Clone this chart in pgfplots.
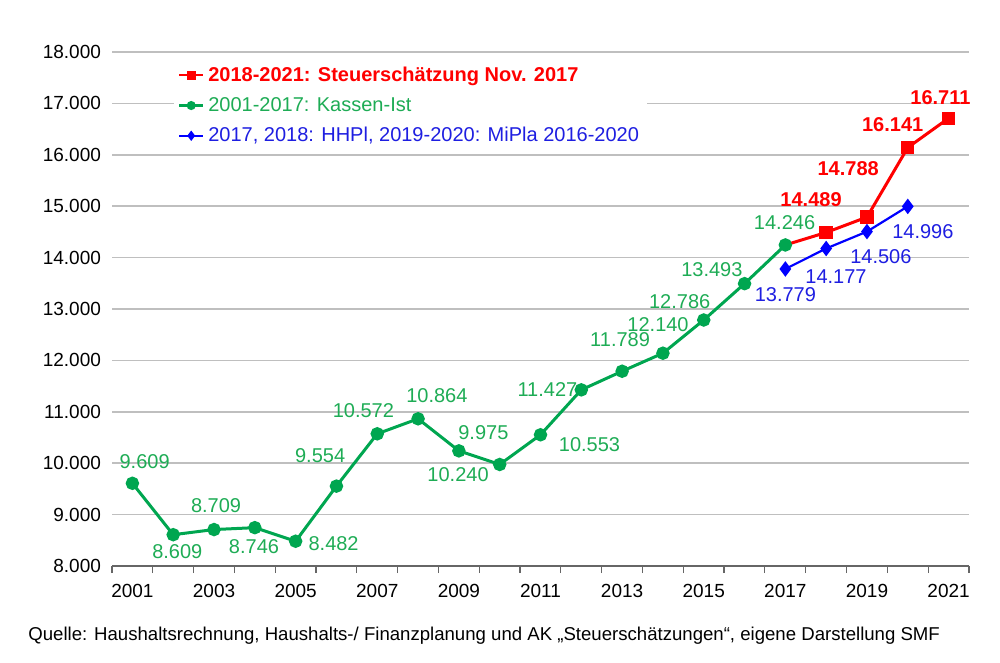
\documentclass[border=0pt]{standalone}
\usepackage{pgfplots}
\pgfplotsset{compat=1.18}
\usepackage{pgfplotstable}
\usepackage{fontspec}
\setmainfont{Liberation Sans}

\definecolor{lgreen}{RGB}{0,166,80}
\definecolor{tgreen}{RGB}{30,172,85}
\definecolor{lred}{RGB}{255,0,0}
\definecolor{lblue}{RGB}{0,0,255}
\definecolor{tblue}{RGB}{30,30,225}

\tikzset{
    lab/.style={font=\fontsize{10}{12}\selectfont},
    labb/.style={font=\fontsize{10}{12}\selectfont\bfseries},
}

% Kassen-Ist 2001-2017
\pgfplotstableread{
year val
2001 9609
2002 8609
2003 8709
2004 8746
2005 8482
2006 9554
2007 10572
2008 10864
2009 10240
2010 9975
2011 10553
2012 11427
2013 11789
2014 12140
2015 12786
2016 13493
2017 14246
}\kassen

% Steuerschaetzung Nov. 2017
\pgfplotstableread{
year val
2017 14246
2018 14489
2019 14788
2020 16141
2021 16711
}\steuer

% HHPl / MiPla
\pgfplotstableread{
year val
2017 13779
2018 14177
2019 14506
2020 14996
}\mipla

\begin{document}
\begin{tikzpicture}
\begin{axis}[
    at={(0,0)}, anchor=south west, name=ax,
    scale only axis, width=428.5pt, height=257pt,
    xmin=2000.5, xmax=2021.5,
    ymin=8000, ymax=18000,
    xtick={2001,2003,...,2021},
    minor xtick={2000.5,2001.5,...,2021.5},
    ytick={8000,9000,...,18000},
    scaled y ticks=false,
    axis x line*=bottom, axis y line*=left,
    y axis line style={draw=none},
    x axis line style={-, draw=black!60, line width=0.8pt},
    ytick style={draw=none},
    major tick length=0pt,
    minor tick length=3.5pt,
    tick align=outside,
    minor x tick style={draw=black!60, line width=0.6pt},
    ymajorgrids,
    grid style={black!25, line width=0.8pt},
    /pgf/number format/assume math mode=true,
    yticklabel style={font=\fontsize{9.5}{11}\selectfont, /pgf/number format/fixed, /pgf/number format/1000 sep={.}, xshift=-2pt},
    xticklabel style={font=\fontsize{9.5}{11}\selectfont, /pgf/number format/1000 sep={}, yshift=-5.5pt},
    clip=false,
    legend image code/.code={
        \draw[mark indices={2}, line width=1.1pt]
        plot coordinates {(0pt,0pt) (6pt,0pt) (12pt,0pt)};
    },
    legend image post style={mark size=1.7pt},
    legend style={at={(0.072,0.988)}, anchor=north west, draw=none, fill=white,
        font=\fontsize{10}{12}\selectfont, row sep=2.5pt, inner sep=2pt},
    legend cell align=left,
]
\addplot[lred, line width=1.5pt, mark=square*, mark size=2.6pt, mark indices={2,3,4,5}] table[x=year, y=val] {\steuer};
\addlegendentry{\textcolor{lred}{\bfseries 2018-2021: Steuerschätzung Nov. 2017}}
\addplot[lgreen, line width=1.5pt, mark=*, mark size=2.6pt] table[x=year, y=val] {\kassen};
\addlegendentry{\textcolor{tgreen}{2001-2017: Kassen-Ist}}
\addplot[lblue, line width=1.1pt, mark=diamond*, mark size=3pt] table[x=year, y=val] {\mipla};
\addlegendentry{\textcolor{tblue}{2017, 2018: HHPl, 2019-2020: MiPla 2016-2020}}

% data labels, green
\node[lab, tgreen] at (axis cs:2001.3,10023) {9.609};
\node[lab, tgreen] at (axis cs:2002.1,8272) {8.609};
\node[lab, tgreen] at (axis cs:2003.05,9167) {8.709};
\node[lab, tgreen] at (axis cs:2003.98,8370) {8.746};
\node[lab, tgreen] at (axis cs:2005.93,8428) {8.482};
\node[lab, tgreen] at (axis cs:2005.6,10140) {9.554};
\node[lab, tgreen] at (axis cs:2006.66,11016) {10.572};
\node[lab, tgreen] at (axis cs:2008.46,11307) {10.864};
\node[lab, tgreen] at (axis cs:2009.6,10588) {9.975};
\node[lab, tgreen] at (axis cs:2008.98,9770) {10.240};
\node[lab, tgreen] at (axis cs:2012.2,10354) {10.553};
\node[lab, tgreen] at (axis cs:2011.17,11424) {11.427};
\node[lab, tgreen] at (axis cs:2012.95,12397) {11.789};
\node[lab, tgreen] at (axis cs:2013.88,12689) {12.140};
\node[lab, tgreen] at (axis cs:2014.41,13136) {12.786};
\node[lab, tgreen] at (axis cs:2015.2,13759) {13.493};
\node[lab, tgreen] at (axis cs:2016.98,14673) {14.246};
% data labels, red
\node[labb, lred] at (axis cs:2017.63,15121) {14.489};
\node[labb, lred] at (axis cs:2018.54,15724) {14.788};
\node[labb, lred] at (axis cs:2019.63,16580) {16.141};
\node[labb, lred] at (axis cs:2020.8,17105) {16.711};
% data labels, blue
\node[lab, tblue] at (axis cs:2017.0,13272) {13.779};
\node[lab, tblue] at (axis cs:2018.24,13623) {14.177};
\node[lab, tblue] at (axis cs:2019.34,14012) {14.506};
\node[lab, tblue] at (axis cs:2020.37,14498) {14.996};
\end{axis}
\node[anchor=west, inner sep=0pt, font=\fontsize{9.3}{11}\selectfont] at (-42pt,-35pt)
    {Quelle: Haushaltsrechnung, Haushalts-/ Finanzplanung und AK „Steuerschätzungen“, eigene Darstellung SMF};
\path (-56pt,-48.5pt) rectangle (444pt,283pt);
\end{tikzpicture}
\end{document}
